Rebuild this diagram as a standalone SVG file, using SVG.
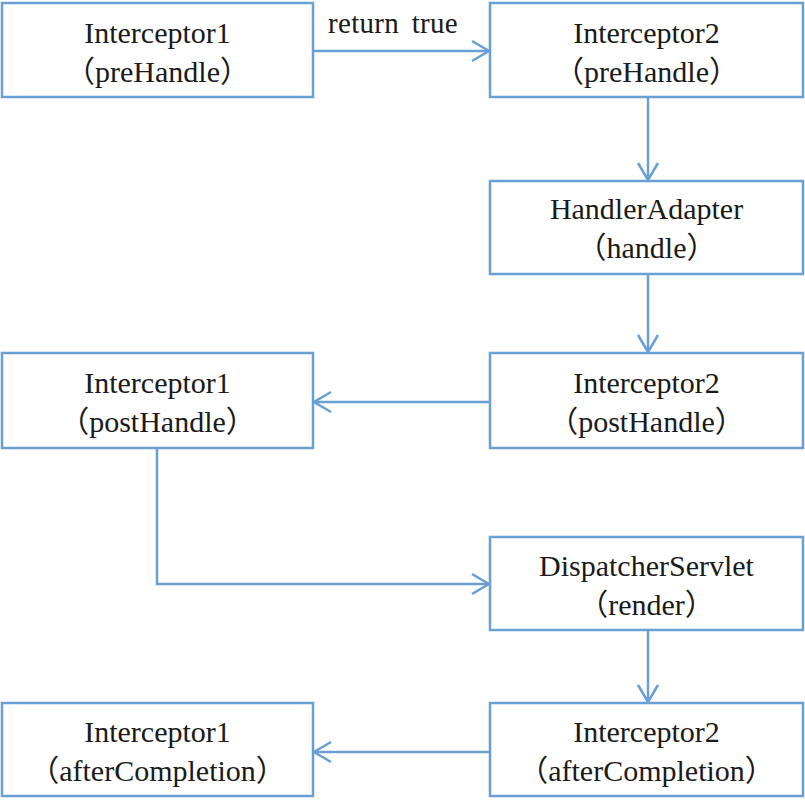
<svg xmlns="http://www.w3.org/2000/svg" width="805" height="800" viewBox="0 0 805 800">
<style>
.box{fill:#ffffff;stroke:#6a9fd3;stroke-width:2.5}
.t{font-family:"Liberation Serif","Noto Sans CJK SC",serif;font-size:30px;fill:#1a1a1a;text-anchor:middle}
.lbl{font-family:"Liberation Serif","Noto Sans CJK SC",serif;font-size:29px;fill:#1a1a1a;text-anchor:middle;word-spacing:5px;letter-spacing:0.3px}
.c{fill:none;stroke:#6a9fd3;stroke-width:2.5}
</style>
<defs>
<marker id="arr" markerUnits="userSpaceOnUse" markerWidth="22" markerHeight="24" refX="18" refY="11" orient="auto" overflow="visible">
<path d="M1,1 L18,11 L1,21" fill="none" stroke="#6a9fd3" stroke-width="2.5"/>
</marker>
</defs>
<rect width="805" height="800" fill="#ffffff"/>
<g id="connectors">
<line class="c" x1="313" y1="51" x2="489" y2="51" marker-end="url(#arr)"/>
<text class="lbl" x="393" y="33">return true</text>
<line class="c" x1="648" y1="97" x2="648" y2="180" marker-end="url(#arr)"/>
<line class="c" x1="648" y1="274" x2="648" y2="352" marker-end="url(#arr)"/>
<line class="c" x1="490" y1="402" x2="314" y2="402" marker-end="url(#arr)"/>
<polyline class="c" points="157,448 157,584 489,584" marker-end="url(#arr)"/>
<line class="c" x1="648" y1="630" x2="648" y2="702" marker-end="url(#arr)"/>
<line class="c" x1="490" y1="752" x2="314" y2="752" marker-end="url(#arr)"/>
</g>
<g id="n1">
<rect class="box" x="2" y="3" width="311" height="94"/>
<text class="t" x="157.5" y="43">Interceptor1</text>
<text class="t" x="157.5" y="82">（preHandle）</text>
</g>
<g id="n2">
<rect class="box" x="490" y="3" width="313" height="94"/>
<text class="t" x="646.5" y="43">Interceptor2</text>
<text class="t" x="646.5" y="82">（preHandle）</text>
</g>
<g id="n3">
<rect class="box" x="490" y="181" width="313" height="93"/>
<text class="t" x="646.5" y="219">HandlerAdapter</text>
<text class="t" x="646.5" y="258">（handle）</text>
</g>
<g id="n4">
<rect class="box" x="490" y="353" width="313" height="95"/>
<text class="t" x="646.5" y="393">Interceptor2</text>
<text class="t" x="646.5" y="432">（postHandle）</text>
</g>
<g id="n5">
<rect class="box" x="2" y="353" width="311" height="95"/>
<text class="t" x="157.5" y="393">Interceptor1</text>
<text class="t" x="157.5" y="432">（postHandle）</text>
</g>
<g id="n6">
<rect class="box" x="490" y="537" width="313" height="93"/>
<text class="t" x="646.5" y="576">DispatcherServlet</text>
<text class="t" x="646.5" y="615">（render）</text>
</g>
<g id="n7">
<rect class="box" x="490" y="703" width="313" height="93"/>
<text class="t" x="646.5" y="742">Interceptor2</text>
<text class="t" x="646.5" y="781">（afterCompletion）</text>
</g>
<g id="n8">
<rect class="box" x="2" y="703" width="311" height="93"/>
<text class="t" x="157.5" y="742">Interceptor1</text>
<text class="t" x="157.5" y="781">（afterCompletion）</text>
</g>
</svg>
